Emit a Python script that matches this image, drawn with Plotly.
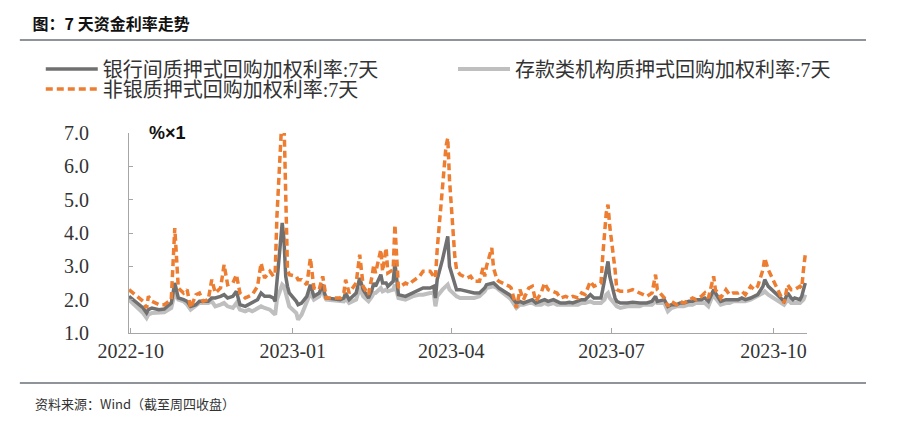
import plotly.graph_objects as go

dates = [
    "2022-09-30", "2022-10-08", "2022-10-10", "2022-10-11", "2022-10-13", "2022-10-17", "2022-10-20",
    "2022-10-24", "2022-10-26", "2022-10-27", "2022-10-28", "2022-10-31", "2022-11-02", "2022-11-04",
    "2022-11-07", "2022-11-09", "2022-11-11", "2022-11-14", "2022-11-16", "2022-11-18", "2022-11-21",
    "2022-11-23", "2022-11-25", "2022-11-28", "2022-11-30", "2022-12-02", "2022-12-05", "2022-12-07",
    "2022-12-09", "2022-12-12", "2022-12-14", "2022-12-16", "2022-12-19", "2022-12-21", "2022-12-22",
    "2022-12-23", "2022-12-26", "2022-12-27", "2022-12-28", "2022-12-29", "2022-12-30", "2023-01-03",
    "2023-01-04", "2023-01-06", "2023-01-09", "2023-01-11", "2023-01-13", "2023-01-16", "2023-01-18",
    "2023-01-19", "2023-01-20", "2023-01-28", "2023-01-30", "2023-01-31", "2023-02-02", "2023-02-06",
    "2023-02-08", "2023-02-10", "2023-02-13", "2023-02-15", "2023-02-16", "2023-02-17", "2023-02-20",
    "2023-02-21", "2023-02-23", "2023-02-24", "2023-02-27", "2023-02-28", "2023-03-01", "2023-03-02",
    "2023-03-06", "2023-03-08", "2023-03-10", "2023-03-14", "2023-03-16", "2023-03-20", "2023-03-22",
    "2023-03-23", "2023-03-24", "2023-03-27", "2023-03-29", "2023-03-30", "2023-03-31", "2023-04-03",
    "2023-04-04", "2023-04-06", "2023-04-10", "2023-04-12", "2023-04-14", "2023-04-17", "2023-04-19",
    "2023-04-20", "2023-04-21", "2023-04-24", "2023-04-25", "2023-04-27", "2023-04-28", "2023-05-04",
    "2023-05-05", "2023-05-08", "2023-05-10", "2023-05-12", "2023-05-15", "2023-05-17", "2023-05-19",
    "2023-05-22", "2023-05-24", "2023-05-26", "2023-05-29", "2023-05-31", "2023-06-02", "2023-06-05",
    "2023-06-07", "2023-06-09", "2023-06-12", "2023-06-14", "2023-06-16", "2023-06-19", "2023-06-21",
    "2023-06-25", "2023-06-26", "2023-06-27", "2023-06-28", "2023-06-29", "2023-06-30", "2023-07-03",
    "2023-07-04", "2023-07-06", "2023-07-10", "2023-07-13", "2023-07-17", "2023-07-19", "2023-07-21",
    "2023-07-24", "2023-07-26", "2023-07-27", "2023-07-31", "2023-08-02", "2023-08-04", "2023-08-07",
    "2023-08-09", "2023-08-11", "2023-08-14", "2023-08-16", "2023-08-18", "2023-08-21", "2023-08-23",
    "2023-08-25", "2023-08-28", "2023-08-29", "2023-08-31", "2023-09-01", "2023-09-04", "2023-09-06",
    "2023-09-08", "2023-09-11", "2023-09-13", "2023-09-15", "2023-09-18", "2023-09-20", "2023-09-22",
    "2023-09-25", "2023-09-26", "2023-09-27", "2023-09-28", "2023-10-07", "2023-10-09", "2023-10-11",
    "2023-10-12", "2023-10-13", "2023-10-16", "2023-10-17", "2023-10-18", "2023-10-19",
]

interbank = [
    2.10, 1.75, 1.60, 1.70, 1.75, 1.70, 1.72,
    1.90, 2.50, 2.30, 2.05, 2.00, 1.95, 1.80,
    1.85, 1.95, 1.95, 1.95, 2.05, 2.05, 2.10,
    2.15, 2.05, 2.10, 2.25, 1.85, 1.80, 1.85,
    1.90, 2.00, 2.20, 2.10, 2.10, 2.05, 1.95,
    2.60, 4.30, 3.80, 2.70, 2.40, 2.20, 1.95,
    1.85, 1.90, 2.10, 2.45, 2.10, 2.20, 2.45,
    2.20, 2.05, 2.00, 2.05, 2.20, 2.00, 2.20,
    2.65, 2.30, 2.05, 2.30, 2.50, 2.40, 2.75,
    2.50, 2.50, 2.40, 2.55, 3.10, 2.50, 2.15,
    2.10, 2.15, 2.20, 2.30, 2.35, 2.35, 2.40,
    2.05, 2.60, 3.20, 3.70, 3.90, 3.00, 2.50,
    2.30, 2.30, 2.25, 2.20, 2.20, 2.20, 2.30,
    2.35, 2.45, 2.50, 2.50, 2.40, 2.35, 2.15,
    2.10, 1.90, 1.95, 1.90, 1.95, 2.00, 1.90,
    1.95, 2.00, 1.95, 2.00, 1.95, 1.90, 1.90,
    1.92, 1.90, 1.95, 2.00, 2.00, 2.15, 2.05,
    2.05, 2.30, 2.60, 2.90, 3.15, 2.70, 2.05,
    1.95, 1.90, 1.90, 1.92, 1.90, 1.90, 1.90,
    1.95, 2.10, 1.95, 2.00, 1.80, 1.85, 1.85,
    1.90, 1.90, 1.95, 1.95, 2.00, 2.00, 2.05,
    1.95, 2.30, 2.20, 2.00, 1.95, 2.00, 2.00,
    2.00, 2.00, 2.05, 2.00, 2.05, 2.10, 2.15,
    2.40, 2.60, 2.50, 2.40, 1.95, 2.20, 2.05,
    2.00, 2.05, 2.00, 2.10, 2.30, 2.50,
]

deposit = [
    2.00, 1.60, 1.45, 1.55, 1.60, 1.60, 1.62,
    1.75, 2.20, 2.10, 2.00, 1.95, 1.85, 1.70,
    1.80, 1.90, 1.90, 1.90, 1.95, 1.80, 1.85,
    1.90, 1.80, 1.75, 1.90, 1.70, 1.65, 1.70,
    1.65, 1.75, 1.80, 1.75, 1.70, 1.60, 1.55,
    2.00, 2.45, 2.40, 2.20, 2.00, 1.80, 1.60,
    1.40, 1.55, 1.90, 2.20, 2.00, 2.10, 2.35,
    2.10, 2.00, 1.95, 1.95, 2.05, 1.90, 2.00,
    2.35, 2.10, 1.95, 2.10, 2.20, 2.20, 2.35,
    2.25, 2.30, 2.25, 2.30, 2.45, 2.20, 2.05,
    2.00, 2.05, 2.10, 2.15, 2.15, 2.20, 2.20,
    1.80, 2.10, 2.30, 2.40, 2.45, 2.30, 2.15,
    2.10, 2.05, 2.05, 2.05, 2.05, 2.10, 2.20,
    2.25, 2.35, 2.40, 2.40, 2.35, 2.30, 2.05,
    2.00, 1.75, 1.85, 1.85, 1.90, 1.90, 1.85,
    1.85, 1.90, 1.85, 1.90, 1.85, 1.85, 1.85,
    1.85, 1.85, 1.85, 1.90, 1.90, 1.95, 1.90,
    1.90, 1.95, 2.00, 2.15, 2.20, 2.05, 1.85,
    1.80, 1.75, 1.80, 1.80, 1.80, 1.85, 1.85,
    1.85, 1.95, 1.90, 1.90, 1.65, 1.75, 1.80,
    1.80, 1.80, 1.85, 1.85, 1.90, 1.90, 1.90,
    1.80, 2.20, 2.05, 1.90, 1.85, 1.90, 1.90,
    1.95, 1.95, 1.95, 1.95, 2.00, 2.05, 2.10,
    2.20, 2.25, 2.20, 2.15, 1.85, 2.00, 1.90,
    1.90, 1.90, 1.90, 1.95, 2.00, 2.15,
]

nonbank = [
    2.30, 1.95, 1.75, 2.10, 1.95, 1.85, 1.85,
    2.00, 4.15, 3.00, 2.35, 2.20, 2.30, 1.75,
    2.15, 2.20, 1.95, 2.00, 2.60, 2.20, 2.35,
    3.05, 2.45, 2.50, 2.75, 2.20, 2.05, 2.10,
    2.15, 2.40, 3.10, 2.65, 2.85, 2.70, 2.80,
    4.50, 7.60, 7.40, 4.50, 2.90, 2.75, 2.70,
    2.60, 2.60, 2.45, 3.25, 2.35, 2.30, 2.70,
    2.30, 2.05, 2.05, 2.20, 2.60, 2.20, 2.50,
    3.35, 2.40, 2.15, 2.70, 3.05, 2.80, 3.50,
    2.85, 3.55, 2.80, 2.90, 4.25, 3.20, 2.35,
    2.50, 2.45, 2.55, 2.70, 2.85, 2.85, 2.70,
    2.65, 3.50, 5.30, 6.60, 6.85, 5.60, 3.30,
    2.90, 2.75, 2.65, 2.70, 2.55, 2.55, 2.95,
    2.70, 3.00, 3.55, 2.95, 2.60, 2.55, 2.40,
    2.35, 1.75, 2.30, 2.00, 2.35, 2.40, 1.95,
    2.20, 2.50, 2.30, 2.25, 2.20, 2.05, 2.10,
    2.05, 2.10, 2.05, 2.20, 2.15, 2.55, 2.40,
    2.50, 3.30, 4.00, 4.60, 4.85, 4.20, 2.90,
    2.30, 2.25, 2.25, 2.30, 2.20, 2.15, 2.10,
    2.20, 2.75, 2.30, 2.05, 1.80, 1.95, 1.85,
    1.95, 1.90, 2.00, 2.05, 2.00, 2.10, 2.20,
    2.05, 2.70, 2.30, 2.15, 2.05, 2.30, 2.15,
    2.20, 2.20, 2.25, 2.15, 2.40, 2.30, 2.40,
    2.90, 3.25, 3.05, 2.90, 1.90, 2.45, 2.30,
    2.30, 2.30, 2.40, 2.35, 2.90, 3.35,
]

series_names = [
    "银行间质押式回购加权利率:7天",
    "存款类机构质押式回购加权利率:7天",
    "非银质押式回购加权利率:7天",
]
y_ticks = [1, 2, 3, 4, 5, 6, 7]
x_ticks = ["2022-10-01", "2023-01-01", "2023-04-01", "2023-07-01", "2023-10-01"]
x_tick_labels = ["2022-10", "2023-01", "2023-04", "2023-07", "2023-10"]

SERIF = "Liberation Serif, Noto Sans CJK SC, serif"
CJK = "Noto Sans CJK SC, sans-serif"
TXT = "#333333"
AXC = "#a6a6a6"

fig = go.Figure()
fig.add_trace(go.Scatter(
    x=dates, y=deposit, name=series_names[1], mode="lines", legend="legend2",
    line=dict(color="#bfbfbf", width=4),
))
fig.add_trace(go.Scatter(
    x=dates, y=interbank, name=series_names[0], mode="lines", legend="legend",
    line=dict(color="#707070", width=3.5),
))
fig.add_trace(go.Scatter(
    x=dates, y=nonbank, name=series_names[2], mode="lines", legend="legend3",
    line=dict(color="#ED7D31", width=3.5, dash="7px,4px"),
))

legend_common = dict(
    orientation="h", xref="container", yref="container",
    xanchor="left", yanchor="middle",
    font=dict(family=SERIF, size=20, color=TXT),
    itemwidth=52, bgcolor="rgba(0,0,0,0)",
)

fig.update_layout(
    width=906, height=426,
    margin=dict(l=129, r=99, t=133, b=93),
    paper_bgcolor="white", plot_bgcolor="white",
    showlegend=True,
    legend=dict(x=0.045, y=0.838, **legend_common),
    legend2=dict(x=0.500, y=0.838, **legend_common),
    legend3=dict(x=0.045, y=0.791, **legend_common),
    title=dict(
        text="<b>图：7 天资金利率走势</b>", xref="container", yref="container",
        x=0.036, y=0.942, xanchor="left", yanchor="middle",
        font=dict(family=CJK, size=16, color="#111111"),
    ),
    xaxis=dict(
        type="date", range=["2022-09-30", "2023-10-20"],
        tickvals=x_ticks, ticktext=x_tick_labels,
        showgrid=False, zeroline=False,
        showline=True, linecolor=AXC, linewidth=1,
        ticks="inside", ticklen=5, tickcolor=AXC,
        tickfont=dict(family=SERIF, size=20, color=TXT),
    ),
    yaxis=dict(
        range=[1, 7], tickvals=y_ticks, tickformat=".1f",
        showgrid=False, zeroline=False,
        showline=True, linecolor=AXC, linewidth=1,
        ticks="outside", ticklen=35, tickcolor="rgba(0,0,0,0)",
        tickfont=dict(family=SERIF, size=20, color=TXT),
    ),
    yaxis2=dict(
        overlaying="y", side="left", range=[1, 7], tickvals=y_ticks,
        showgrid=False, zeroline=False, showline=False, showticklabels=False,
        ticks="inside", ticklen=4, tickcolor=AXC,
    ),
    shapes=[
        dict(type="line", xref="paper", yref="paper", x0=-0.161, x1=1.087, y0=1.465, y1=1.465,
             line=dict(color="#1f2a36", width=1.2)),
        dict(type="line", xref="paper", yref="paper", x0=-0.161, x1=1.087, y0=-0.25, y1=-0.25,
             line=dict(color="#1f2a36", width=1.2)),
    ],
    annotations=[
        dict(text="<b>%×1</b>", xref="paper", yref="paper", x=0.026, y=1.0,
             xanchor="left", yanchor="middle", showarrow=False,
             font=dict(family="Liberation Sans, Noto Sans CJK SC", size=18, color="#111111")),
        dict(text="资料来源：Wind（截至周四收盘）", xref="paper", yref="paper", x=-0.142, y=-0.35,
             xanchor="left", yanchor="middle", showarrow=False,
             font=dict(family=CJK, size=13, color=TXT)),
    ],
)

# an invisible trace so the overlay axis with the inside tick marks is drawn
fig.add_trace(go.Scatter(x=[dates[0]], y=[None], yaxis="y2", showlegend=False, hoverinfo="skip"))

fig.write_html("out.html")
